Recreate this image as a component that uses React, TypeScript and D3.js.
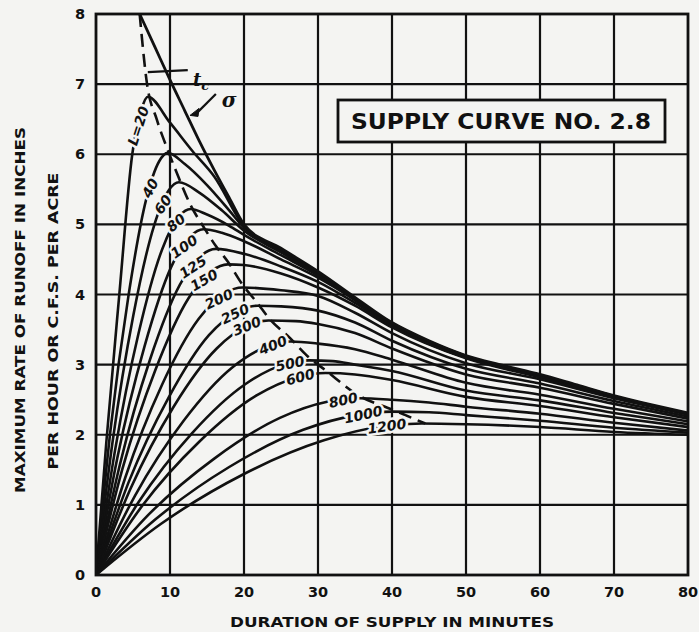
import React from 'react';
import * as d3 from 'd3';

const WIDTH = 699;
const HEIGHT = 632;

const MARGIN = {
  top: 14,
  right: 11,
  bottom: 57,
  left: 96,
};

const BG = '#f4f4f2';
const INK = '#111';

// axis ticks
const X_TICKS = [0, 10, 20, 30, 40, 50, 60, 70, 80];
const Y_TICKS = [0, 1, 2, 3, 4, 5, 6, 7, 8];

// curve family, L values
const L_VALUES = [20, 40, 60, 80, 100, 125, 150, 200, 250, 300, 400, 500, 600, 800, 1000, 1200];

// [duration (min), rate (in/hr)]
const CURVE_20 = [[0, 0], [1.4, 1.9], [3.15, 4.0], [4.9, 6.0], [6.2, 6.66], [7, 6.82], [10, 6.45], [13, 6.05], [16, 5.68], [20, 4.97], [25, 4.64], [30, 4.31], [40, 3.59], [50, 3.12], [60, 2.85], [70, 2.55], [80, 2.3]];
const CURVE_40 = [[0, 0], [1.94, 2.05], [4.37, 3.97], [6.79, 5.36], [8.54, 5.9], [9.7, 6.02], [12, 5.86], [15, 5.56], [18, 5.2], [20, 4.95], [25, 4.63], [30, 4.3], [40, 3.58], [50, 3.12], [60, 2.85], [70, 2.55], [80, 2.3]];
const CURVE_60 = [[0, 0], [2.24, 1.9], [5.04, 3.7], [7.84, 4.98], [9.86, 5.49], [11.2, 5.6], [14, 5.45], [17, 5.2], [20, 4.91], [25, 4.6], [30, 4.29], [40, 3.57], [50, 3.11], [60, 2.84], [70, 2.54], [80, 2.3]];
const CURVE_80 = [[0, 0], [2.56, 1.77], [5.76, 3.45], [8.96, 4.65], [11.26, 5.12], [12.8, 5.22], [15, 5.14], [18, 4.98], [20, 4.85], [25, 4.56], [30, 4.27], [35, 3.93], [40, 3.57], [50, 3.11], [60, 2.84], [70, 2.54], [80, 2.3]];
const CURVE_100 = [[0, 0], [2.9, 1.68], [6.53, 3.25], [10.15, 4.39], [12.76, 4.83], [14.5, 4.93], [17, 4.88], [20, 4.76], [25, 4.5], [30, 4.24], [35, 3.92], [40, 3.56], [50, 3.1], [60, 2.84], [70, 2.54], [80, 2.3]];
const CURVE_125 = [[0, 0], [3.24, 1.58], [7.29, 3.07], [11.34, 4.14], [14.26, 4.56], [16.2, 4.65], [20, 4.58], [25, 4.4], [30, 4.18], [35, 3.88], [40, 3.55], [50, 3.1], [60, 2.83], [70, 2.54], [80, 2.3]];
const CURVE_150 = [[0, 0], [3.56, 1.51], [8.01, 2.92], [12.46, 3.94], [15.66, 4.34], [17.8, 4.43], [20, 4.42], [25, 4.3], [30, 4.1], [35, 3.84], [40, 3.53], [50, 3.09], [60, 2.82], [70, 2.53], [80, 2.3]];
const CURVE_200 = [[0, 0], [3.96, 1.39], [8.91, 2.71], [13.86, 3.65], [17.42, 4.02], [19.8, 4.1], [25, 4.06], [30, 3.98], [35, 3.74], [40, 3.45], [50, 3.02], [60, 2.79], [70, 2.52], [80, 2.29]];
const CURVE_250 = [[0, 0], [4.36, 1.31], [9.81, 2.53], [15.26, 3.42], [19.18, 3.76], [21.8, 3.84], [25, 3.83], [30, 3.77], [35, 3.6], [40, 3.34], [50, 2.94], [60, 2.73], [70, 2.48], [80, 2.26]];
const CURVE_300 = [[0, 0], [4.66, 1.23], [10.49, 2.4], [16.31, 3.23], [20.5, 3.56], [23.3, 3.63], [27, 3.62], [30, 3.58], [35, 3.45], [40, 3.23], [50, 2.86], [60, 2.67], [70, 2.44], [80, 2.23]];
const CURVE_400 = [[0, 0], [5.26, 1.13], [11.84, 2.2], [18.41, 2.96], [23.14, 3.26], [26.3, 3.33], [30, 3.3], [35, 3.22], [40, 3.07], [50, 2.74], [60, 2.57], [70, 2.37], [80, 2.19]];
const CURVE_500 = [[0, 0], [5.76, 1.04], [12.96, 2.02], [20.16, 2.72], [25.34, 3.0], [28.8, 3.06], [32, 3.05], [35, 3.0], [40, 2.91], [50, 2.63], [60, 2.49], [70, 2.31], [80, 2.15]];
const CURVE_600 = [[0, 0], [6.2, 0.98], [13.95, 1.9], [21.7, 2.56], [27.28, 2.82], [31, 2.88], [35, 2.86], [40, 2.78], [50, 2.54], [60, 2.41], [70, 2.25], [80, 2.11]];
const CURVE_800 = [[0, 0], [7.1, 0.86], [15.98, 1.66], [24.85, 2.24], [31.24, 2.47], [35.5, 2.52], [40, 2.5], [45, 2.46], [50, 2.4], [60, 2.3], [70, 2.17], [80, 2.06]];
const CURVE_1000 = [[0, 0], [8, 0.79], [18, 1.54], [28, 2.07], [35.2, 2.28], [40, 2.33], [45, 2.32], [50, 2.28], [60, 2.2], [70, 2.1], [80, 2.03]];
const CURVE_1200 = [[0, 0], [8.8, 0.73], [19.8, 1.43], [30.8, 1.92], [38.72, 2.12], [44, 2.16], [50, 2.15], [60, 2.11], [70, 2.04], [80, 2.0]];

// envelope (sigma) and time of concentration (tc) line
const SIGMA = [[5.9, 8.0], [8, 7.52], [10, 7.06], [12, 6.62], [14, 6.18], [16, 5.77], [18, 5.38], [20, 5.0], [25, 4.66], [30, 4.33], [35, 3.96], [40, 3.6], [45, 3.34], [50, 3.13], [55, 2.99], [60, 2.86], [65, 2.71], [70, 2.56], [75, 2.43], [80, 2.31]];
const TC = [[5.9, 8.0], [6.9, 7.0], [8.2, 6.5], [9.7, 6.06], [11.2, 5.66], [12.8, 5.27], [14.5, 4.97], [16.2, 4.69], [17.8, 4.47], [19.8, 4.14], [21.8, 3.88], [23.3, 3.67], [26.3, 3.37], [28.8, 3.1], [31, 2.92], [35.5, 2.56], [40, 2.36], [44.5, 2.16]];

const CURVES = [CURVE_20, CURVE_40, CURVE_60, CURVE_80, CURVE_100, CURVE_125, CURVE_150, CURVE_200, CURVE_250, CURVE_300, CURVE_400, CURVE_500, CURVE_600, CURVE_800, CURVE_1000, CURVE_1200];

// where each L label sits on its curve (duration) and its tilt
const LABEL_AT = [5.7, 7.3, 9.05, 10.8, 11.9, 13.1, 14.6, 16.6, 18.8, 20.4, 23.9, 26.2, 27.6, 33.4, 36.1, 39.3];
const LABEL_ROT = [-72, -62, -55, -40, -35, -33, -30, -25, -25, -22, -22, -12, -15, -12, -12, -8];

const TITLE = 'SUPPLY CURVE NO. 2.8';
const X_TITLE = 'DURATION OF SUPPLY IN MINUTES';
const Y_TITLE_1 = 'MAXIMUM RATE OF RUNOFF IN INCHES';
const Y_TITLE_2 = 'PER HOUR OR C.F.S. PER ACRE';

const FONT = '"DejaVu Sans", Verdana, sans-serif';

const valueAt = (pts: number[][], t: number) => {
  for (let i = 1; i < pts.length; i++) {
    if (t <= pts[i][0]) {
      const [t0, q0] = pts[i - 1];
      const [t1, q1] = pts[i];
      return q0 + (q1 - q0) * (t - t0) / (t1 - t0);
    }
  }
  return pts[pts.length - 1][1];
};

export default function App() {
  const x = d3.scaleLinear()
    .domain([0, 80])
    .range([MARGIN.left, WIDTH - MARGIN.right]);

  const y = d3.scaleLinear()
    .domain([0, 8])
    .range([HEIGHT - MARGIN.bottom, MARGIN.top]);

  const line = d3.line<number[]>()
    .x(d => x(d[0]))
    .y(d => y(d[1]))
    .curve(d3.curveMonotoneX);

  const x0 = x(0), x1 = x(80), y0 = y(0), y1 = y(8);

  // annotation anchors
  const sigTipT = 12.3;
  const sigTip = [x(sigTipT) + 3, y(valueAt(SIGMA, sigTipT))];
  const sigTail = [x(16.2), y(6.86)];

  return (
    <svg width={WIDTH} height={HEIGHT} style={{ position: 'absolute', left: 0, top: 0, background: BG }}>
      <defs>
        <clipPath id="plot">
          <rect x={x0} y={y1} width={x1 - x0} height={y0 - y1} />
        </clipPath>
      </defs>
      <rect x={0} y={0} width={WIDTH} height={HEIGHT} fill={BG} />

      {/* grid */}
      <g stroke={INK} strokeWidth={2.2}>
        {X_TICKS.slice(1, -1).map(t => (
          <line key={'gx' + t} x1={x(t)} x2={x(t)} y1={y1} y2={y0} />
        ))}
        {Y_TICKS.slice(1, -1).map(q => (
          <line key={'gy' + q} x1={x0} x2={x1} y1={y(q)} y2={y(q)} />
        ))}
      </g>

      {/* curves */}
      <g clipPath="url(#plot)" fill="none" stroke={INK} strokeWidth={2.6} strokeLinejoin="round">
        {CURVES.map((c, i) => (
          <path key={'c' + L_VALUES[i]} d={line(c) || ''} />
        ))}
        <path d={line(SIGMA) || ''} strokeWidth={2.8} />
        <path d={line(TC) || ''} strokeWidth={2.6} strokeDasharray="13 7" />
      </g>

      {/* curve labels */}
      <g fontFamily={FONT} fontWeight="bold" fontStyle="italic" fontSize={14} fill={INK}
        textAnchor="middle" stroke={BG} strokeWidth={5} paintOrder="stroke" strokeLinejoin="round">
        {L_VALUES.map((L, i) => {
          const t = LABEL_AT[i];
          const px = x(t);
          const py = y(valueAt(CURVES[i], t));
          return (
            <text key={'l' + L} transform={`translate(${px},${py}) rotate(${LABEL_ROT[i]})`} dy="0.36em">
              {i === 0 ? `L=${L}` : L}
            </text>
          );
        })}
      </g>

      {/* tc and sigma annotations */}
      <g stroke={INK} strokeWidth={2.2} fill="none">
        <line x1={x(7.0)} y1={y(7.17)} x2={x(12.4)} y2={y(7.2)} />
        <line x1={sigTail[0]} y1={sigTail[1]} x2={sigTip[0] + 6} y2={sigTip[1] - 1.5} />
      </g>
      <path d={`M${sigTip[0]},${sigTip[1]} l9,-7 l-1,8 z`} fill={INK} stroke={INK} strokeWidth={1} />
      <text x={x(13.1)} y={y(6.98)} fontFamily='"DejaVu Serif", serif' fontStyle="italic" fontWeight="bold" fontSize={18} fill={INK}>
        t<tspan fontSize={13} dy={4}>c</tspan>
      </text>
      <text x={x(17.0)} y={y(6.68)} fontFamily='"DejaVu Serif", serif' fontStyle="italic" fontWeight="bold" fontSize={20} fill={INK}>
        σ
      </text>

      {/* frame */}
      <rect x={x0} y={y1} width={x1 - x0} height={y0 - y1} fill="none" stroke={INK} strokeWidth={2.8} />

      {/* title box */}
      <rect x={338} y={100} width={327} height={42} fill={BG} stroke={INK} strokeWidth={2.8} />
      <text x={501} y={129} textAnchor="middle" fontFamily={FONT} fontWeight="bold" fontSize={21}
        textLength={300} lengthAdjust="spacingAndGlyphs" fill={INK}>
        {TITLE}
      </text>

      {/* tick labels */}
      <g fontFamily={FONT} fontWeight="bold" fontSize={14.5} fill={INK} textAnchor="middle">
        {X_TICKS.map(t => (
          <text key={'tx' + t} x={x(t)} y={y0 + 22}>{t}</text>
        ))}
        {Y_TICKS.map(q => (
          <text key={'ty' + q} x={80} y={y(q) + 5}>{q}</text>
        ))}
      </g>

      {/* axis titles */}
      <g fontFamily={FONT} fontWeight="bold" fontSize={14} fill={INK} textAnchor="middle">
        <text x={392} y={627} textLength={324} lengthAdjust="spacingAndGlyphs">{X_TITLE}</text>
        <text transform="translate(25,310) rotate(-90)" textLength={366} lengthAdjust="spacingAndGlyphs">{Y_TITLE_1}</text>
        <text transform="translate(58,321) rotate(-90)" textLength={297} lengthAdjust="spacingAndGlyphs">{Y_TITLE_2}</text>
      </g>
    </svg>
  );
}
